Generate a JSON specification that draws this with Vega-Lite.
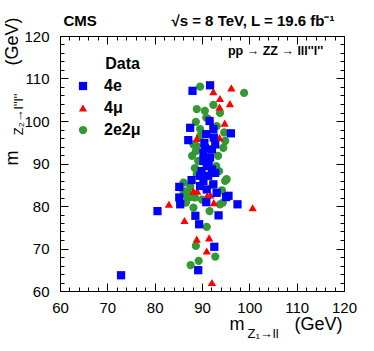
{
  "$schema": "https://vega.github.io/schema/vega-lite/v6.json",
  "width": 284,
  "height": 255,
  "autosize": "none",
  "padding": {"left": 60, "top": 36, "right": 30, "bottom": 60},
  "background": "white",
  "config": {
    "view": {"stroke": "black", "strokeWidth": 1},
    "font": "Liberation Sans",
    "axis": {"grid": false}
  },
  "data": {
    "values": [
      {"mZ1": 89.6, "mZ2": 108.1, "type": "2e2μ"},
      {"mZ1": 98.9, "mZ2": 106.6, "type": "2e2μ"},
      {"mZ1": 92.4, "mZ2": 103.8, "type": "2e2μ"},
      {"mZ1": 88.9, "mZ2": 102.8, "type": "2e2μ"},
      {"mZ1": 90.9, "mZ2": 100.8, "type": "2e2μ"},
      {"mZ1": 88.7, "mZ2": 99.8, "type": "2e2μ"},
      {"mZ1": 93.1, "mZ2": 98.8, "type": "2e2μ"},
      {"mZ1": 89.6, "mZ2": 98.1, "type": "2e2μ"},
      {"mZ1": 94.7, "mZ2": 97.3, "type": "2e2μ"},
      {"mZ1": 94.9, "mZ2": 95.3, "type": "2e2μ"},
      {"mZ1": 88.9, "mZ2": 94.1, "type": "2e2μ"},
      {"mZ1": 94.5, "mZ2": 93.7, "type": "2e2μ"},
      {"mZ1": 88.2, "mZ2": 94.5, "type": "2e2μ"},
      {"mZ1": 88.9, "mZ2": 87.5, "type": "2e2μ"},
      {"mZ1": 95.2, "mZ2": 86.3, "type": "2e2μ"},
      {"mZ1": 94.9, "mZ2": 85.9, "type": "2e2μ"},
      {"mZ1": 86.1, "mZ2": 85.5, "type": "2e2μ"},
      {"mZ1": 86.1, "mZ2": 83.5, "type": "2e2μ"},
      {"mZ1": 86.8, "mZ2": 82.4, "type": "2e2μ"},
      {"mZ1": 88.5, "mZ2": 82.0, "type": "2e2μ"},
      {"mZ1": 87.1, "mZ2": 83.1, "type": "2e2μ"},
      {"mZ1": 87.5, "mZ2": 82.1, "type": "2e2μ"},
      {"mZ1": 86.6, "mZ2": 80.8, "type": "2e2μ"},
      {"mZ1": 88.2, "mZ2": 79.6, "type": "2e2μ"},
      {"mZ1": 93.8, "mZ2": 80.4, "type": "2e2μ"},
      {"mZ1": 94.4, "mZ2": 80.8, "type": "2e2μ"},
      {"mZ1": 94.2, "mZ2": 83.7, "type": "2e2μ"},
      {"mZ1": 91.6, "mZ2": 78.8, "type": "2e2μ"},
      {"mZ1": 91.0, "mZ2": 75.1, "type": "2e2μ"},
      {"mZ1": 88.7, "mZ2": 70.6, "type": "2e2μ"},
      {"mZ1": 92.8, "mZ2": 68.1, "type": "2e2μ"},
      {"mZ1": 89.3, "mZ2": 67.1, "type": "2e2μ"},
      {"mZ1": 87.6, "mZ2": 66.1, "type": "2e2μ"},
      {"mZ1": 88.7, "mZ2": 92.9, "type": "2e2μ"},
      {"mZ1": 93.4, "mZ2": 91.8, "type": "2e2μ"},
      {"mZ1": 89.2, "mZ2": 90.6, "type": "2e2μ"},
      {"mZ1": 93.0, "mZ2": 89.4, "type": "2e2μ"},
      {"mZ1": 88.5, "mZ2": 88.9, "type": "2e2μ"},
      {"mZ1": 93.6, "mZ2": 88.2, "type": "2e2μ"},
      {"mZ1": 87.9, "mZ2": 91.8, "type": "2e2μ"},
      {"mZ1": 89.6, "mZ2": 96.5, "type": "2e2μ"},
      {"mZ1": 93.8, "mZ2": 101.9, "type": "2e2μ"},
      {"mZ1": 90.6, "mZ2": 102.4, "type": "2e2μ"},
      {"mZ1": 92.3, "mZ2": 85.0, "type": "2e2μ"},
      {"mZ1": 87.5, "mZ2": 84.6, "type": "2e2μ"},
      {"mZ1": 90.0, "mZ2": 81.5, "type": "2e2μ"},
      {"mZ1": 92.4, "mZ2": 106.9, "type": "4μ"},
      {"mZ1": 96.2, "mZ2": 107.8, "type": "4μ"},
      {"mZ1": 93.8, "mZ2": 105.3, "type": "4μ"},
      {"mZ1": 93.7, "mZ2": 103.3, "type": "4μ"},
      {"mZ1": 95.9, "mZ2": 104.1, "type": "4μ"},
      {"mZ1": 94.8, "mZ2": 99.5, "type": "4μ"},
      {"mZ1": 88.9, "mZ2": 95.9, "type": "4μ"},
      {"mZ1": 93.7, "mZ2": 96.1, "type": "4μ"},
      {"mZ1": 91.7, "mZ2": 100.6, "type": "4μ"},
      {"mZ1": 89.0, "mZ2": 83.5, "type": "4μ"},
      {"mZ1": 91.8, "mZ2": 82.6, "type": "4μ"},
      {"mZ1": 92.5, "mZ2": 80.8, "type": "4μ"},
      {"mZ1": 83.0, "mZ2": 80.4, "type": "4μ"},
      {"mZ1": 100.7, "mZ2": 79.6, "type": "4μ"},
      {"mZ1": 86.3, "mZ2": 76.6, "type": "4μ"},
      {"mZ1": 91.5, "mZ2": 72.5, "type": "4μ"},
      {"mZ1": 88.9, "mZ2": 72.2, "type": "4μ"},
      {"mZ1": 91.0, "mZ2": 69.4, "type": "4μ"},
      {"mZ1": 92.1, "mZ2": 62.0, "type": "4μ"},
      {"mZ1": 88.2, "mZ2": 83.5, "type": "4μ"},
      {"mZ1": 91.1, "mZ2": 82.4, "type": "4μ"},
      {"mZ1": 90.3, "mZ2": 91.0, "type": "4μ"},
      {"mZ1": 88.0, "mZ2": 107.1, "type": "4e"},
      {"mZ1": 91.7, "mZ2": 108.4, "type": "4e"},
      {"mZ1": 91.6, "mZ2": 100.0, "type": "4e"},
      {"mZ1": 87.5, "mZ2": 98.4, "type": "4e"},
      {"mZ1": 92.4, "mZ2": 98.1, "type": "4e"},
      {"mZ1": 96.1, "mZ2": 97.1, "type": "4e"},
      {"mZ1": 90.9, "mZ2": 96.9, "type": "4e"},
      {"mZ1": 87.1, "mZ2": 95.5, "type": "4e"},
      {"mZ1": 90.5, "mZ2": 94.8, "type": "4e"},
      {"mZ1": 92.5, "mZ2": 96.1, "type": "4e"},
      {"mZ1": 92.8, "mZ2": 94.5, "type": "4e"},
      {"mZ1": 90.3, "mZ2": 92.5, "type": "4e"},
      {"mZ1": 92.1, "mZ2": 93.3, "type": "4e"},
      {"mZ1": 91.7, "mZ2": 91.4, "type": "4e"},
      {"mZ1": 90.3, "mZ2": 90.6, "type": "4e"},
      {"mZ1": 91.0, "mZ2": 89.4, "type": "4e"},
      {"mZ1": 89.9, "mZ2": 88.2, "type": "4e"},
      {"mZ1": 92.1, "mZ2": 88.6, "type": "4e"},
      {"mZ1": 89.6, "mZ2": 87.1, "type": "4e"},
      {"mZ1": 92.8, "mZ2": 87.8, "type": "4e"},
      {"mZ1": 90.3, "mZ2": 85.9, "type": "4e"},
      {"mZ1": 87.8, "mZ2": 86.1, "type": "4e"},
      {"mZ1": 92.4, "mZ2": 85.1, "type": "4e"},
      {"mZ1": 89.6, "mZ2": 84.7, "type": "4e"},
      {"mZ1": 91.0, "mZ2": 83.9, "type": "4e"},
      {"mZ1": 85.2, "mZ2": 84.5, "type": "4e"},
      {"mZ1": 93.1, "mZ2": 83.1, "type": "4e"},
      {"mZ1": 95.1, "mZ2": 82.1, "type": "4e"},
      {"mZ1": 95.6, "mZ2": 82.4, "type": "4e"},
      {"mZ1": 85.2, "mZ2": 82.0, "type": "4e"},
      {"mZ1": 85.4, "mZ2": 80.4, "type": "4e"},
      {"mZ1": 90.9, "mZ2": 80.9, "type": "4e"},
      {"mZ1": 97.5, "mZ2": 80.4, "type": "4e"},
      {"mZ1": 80.6, "mZ2": 78.8, "type": "4e"},
      {"mZ1": 88.6, "mZ2": 77.7, "type": "4e"},
      {"mZ1": 93.5, "mZ2": 77.8, "type": "4e"},
      {"mZ1": 89.4, "mZ2": 75.7, "type": "4e"},
      {"mZ1": 92.6, "mZ2": 70.4, "type": "4e"},
      {"mZ1": 89.2, "mZ2": 64.9, "type": "4e"},
      {"mZ1": 72.9, "mZ2": 63.7, "type": "4e"},
      {"mZ1": 91.3, "mZ2": 87.1, "type": "4e"},
      {"mZ1": 90.6, "mZ2": 93.6, "type": "4e"},
      {"mZ1": 91.4, "mZ2": 90.0, "type": "4e"}
    ]
  },
  "resolve": {"axis": {"x": "independent", "y": "independent"}},
  "layer": [
    {
      "mark": {"type": "point", "filled": true, "opacity": 1, "size": 68, "strokeWidth": 0},
      "encoding": {
        "x": {
          "field": "mZ1", "type": "quantitative",
          "scale": {"domain": [60, 120], "nice": false, "zero": false},
          "axis": {
            "orient": "bottom",
            "values": [60, 70, 80, 90, 100, 110, 120],
            "labelOverlap": false, "labelFlush": false,
            "labelFontSize": 15, "labelColor": "black", "labelPadding": 17,
            "tickColor": "black", "tickSize": -8,
            "domainColor": "black",
            "title": "m\u00a0\u00a0\u00a0\u00a0\u00a0\u00a0\u00a0\u00a0\u00a0\u00a0(GeV)",
            "titleFontSize": 18, "titleFontWeight": "normal", "titleColor": "black",
            "titleAlign": "right", "titleBaseline": "alphabetic",
            "titleX": 282, "titleY": 38
          }
        },
        "y": {
          "field": "mZ2", "type": "quantitative",
          "scale": {"domain": [60, 120], "nice": false, "zero": false},
          "axis": {
            "orient": "left",
            "values": [60, 70, 80, 90, 100, 110, 120],
            "labelOverlap": false, "labelFlush": false,
            "labelFontSize": 15, "labelColor": "black", "labelPadding": 19,
            "tickColor": "black", "tickSize": -8,
            "domainColor": "black",
            "title": "m\u00a0\u00a0\u00a0\u00a0\u00a0\u00a0\u00a0\u00a0\u00a0\u00a0\u00a0\u00a0\u00a0\u00a0\u00a0\u00a0\u00a0(GeV)",
            "titleFontSize": 18, "titleFontWeight": "normal", "titleColor": "black",
            "titleAngle": -90, "titleAlign": "right", "titleBaseline": "alphabetic",
            "titleX": -43, "titleY": -19
          }
        },
        "color": {
          "field": "type", "type": "nominal",
          "scale": {"domain": ["4e", "4μ", "2e2μ"], "range": ["#0000ff", "#ff0000", "#339933"]},
          "legend": {
            "title": "Data", "orient": "none", "legendX": 15, "legendY": 20,
            "titleFontSize": 16, "titleFontWeight": "bold", "titleColor": "black",
            "titleAnchor": "end", "titlePadding": 6,
            "labelFontSize": 16, "labelFontWeight": "bold", "labelColor": "black",
            "labelOffset": 13, "symbolSize": 68, "rowPadding": 6, "symbolStrokeWidth": 0
          }
        },
        "shape": {
          "field": "type", "type": "nominal",
          "scale": {"domain": ["4e", "4μ", "2e2μ"], "range": ["square", "triangle-up", "circle"]},
          "legend": {
            "title": "Data", "orient": "none", "legendX": 15, "legendY": 20,
            "titleFontSize": 16, "titleFontWeight": "bold", "titleColor": "black",
            "titleAnchor": "end", "titlePadding": 6,
            "labelFontSize": 16, "labelFontWeight": "bold", "labelColor": "black",
            "labelOffset": 13, "symbolSize": 68, "rowPadding": 6, "symbolStrokeWidth": 0
          }
        }
      }
    },
    {
      "mark": {"type": "point", "opacity": 0},
      "encoding": {
        "x": {
          "field": "mZ1", "type": "quantitative",
          "axis": {
            "orient": "top",
            "values": [60, 70, 80, 90, 100, 110, 120],
            "labels": false, "tickColor": "black", "tickSize": -8,
            "domainColor": "black",
            "title": "√s = 8 TeV, L = 19.6 fb⁻¹",
            "titleFontSize": 15, "titleFontWeight": "bold", "titleColor": "black",
            "titleAlign": "right", "titleBaseline": "alphabetic",
            "titleX": 274, "titleY": -11
          }
        },
        "y": {
          "field": "mZ2", "type": "quantitative",
          "axis": {
            "orient": "right",
            "values": [60, 70, 80, 90, 100, 110, 120],
            "labels": false, "tickColor": "black", "tickSize": -8,
            "domainColor": "black",
            "title": "CMS",
            "titleFontSize": 15, "titleFontWeight": "bold", "titleColor": "black",
            "titleAngle": 0, "titleAlign": "left", "titleBaseline": "alphabetic",
            "titleX": -281, "titleY": -11
          }
        }
      }
    },
    {
      "mark": {"type": "point", "opacity": 0},
      "encoding": {
        "x": {
          "field": "mZ1", "type": "quantitative",
          "axis": {
            "orient": "bottom",
            "values": [62,64,66,68,72,74,76,78,82,84,86,88,92,94,96,98,102,104,106,108,112,114,116,118],
            "labels": false, "domain": false, "tickColor": "black", "tickSize": -4,
            "title": "Z₁→ll",
            "titleFontSize": 13, "titleFontWeight": "normal", "titleColor": "black",
            "titleAlign": "left", "titleBaseline": "alphabetic",
            "titleX": 187, "titleY": 46
          }
        },
        "y": {
          "field": "mZ2", "type": "quantitative",
          "axis": {
            "orient": "left",
            "values": [62,64,66,68,72,74,76,78,82,84,86,88,92,94,96,98,102,104,106,108,112,114,116,118],
            "labels": false, "domain": false, "tickColor": "black", "tickSize": -4,
            "title": "Z₂→l''l''",
            "titleFontSize": 13, "titleFontWeight": "normal", "titleColor": "black",
            "titleAngle": -90, "titleAlign": "right", "titleBaseline": "alphabetic",
            "titleX": -38, "titleY": 57
          }
        }
      }
    },
    {
      "mark": {"type": "point", "opacity": 0},
      "encoding": {
        "x": {
          "field": "mZ1", "type": "quantitative",
          "axis": {
            "orient": "top",
            "values": [62,64,66,68,72,74,76,78,82,84,86,88,92,94,96,98,102,104,106,108,112,114,116,118],
            "labels": false, "domain": false, "tickColor": "black", "tickSize": -4,
            "title": null
          }
        },
        "y": {
          "field": "mZ2", "type": "quantitative",
          "axis": {
            "orient": "right",
            "values": [62,64,66,68,72,74,76,78,82,84,86,88,92,94,96,98,102,104,106,108,112,114,116,118],
            "labels": false, "domain": false, "tickColor": "black", "tickSize": -4,
            "title": null
          }
        }
      }
    },
    {
      "data": {"values": [{"label": "pp → ZZ → lll''l''"}]},
      "mark": {"type": "text", "align": "right", "baseline": "alphabetic", "fontSize": 12.5, "fontWeight": "bold", "color": "black"},
      "encoding": {
        "x": {"datum": 115.6, "type": "quantitative", "axis": null},
        "y": {"datum": 115.5, "type": "quantitative", "axis": null},
        "text": {"field": "label"}
      }
    }
  ]
}
